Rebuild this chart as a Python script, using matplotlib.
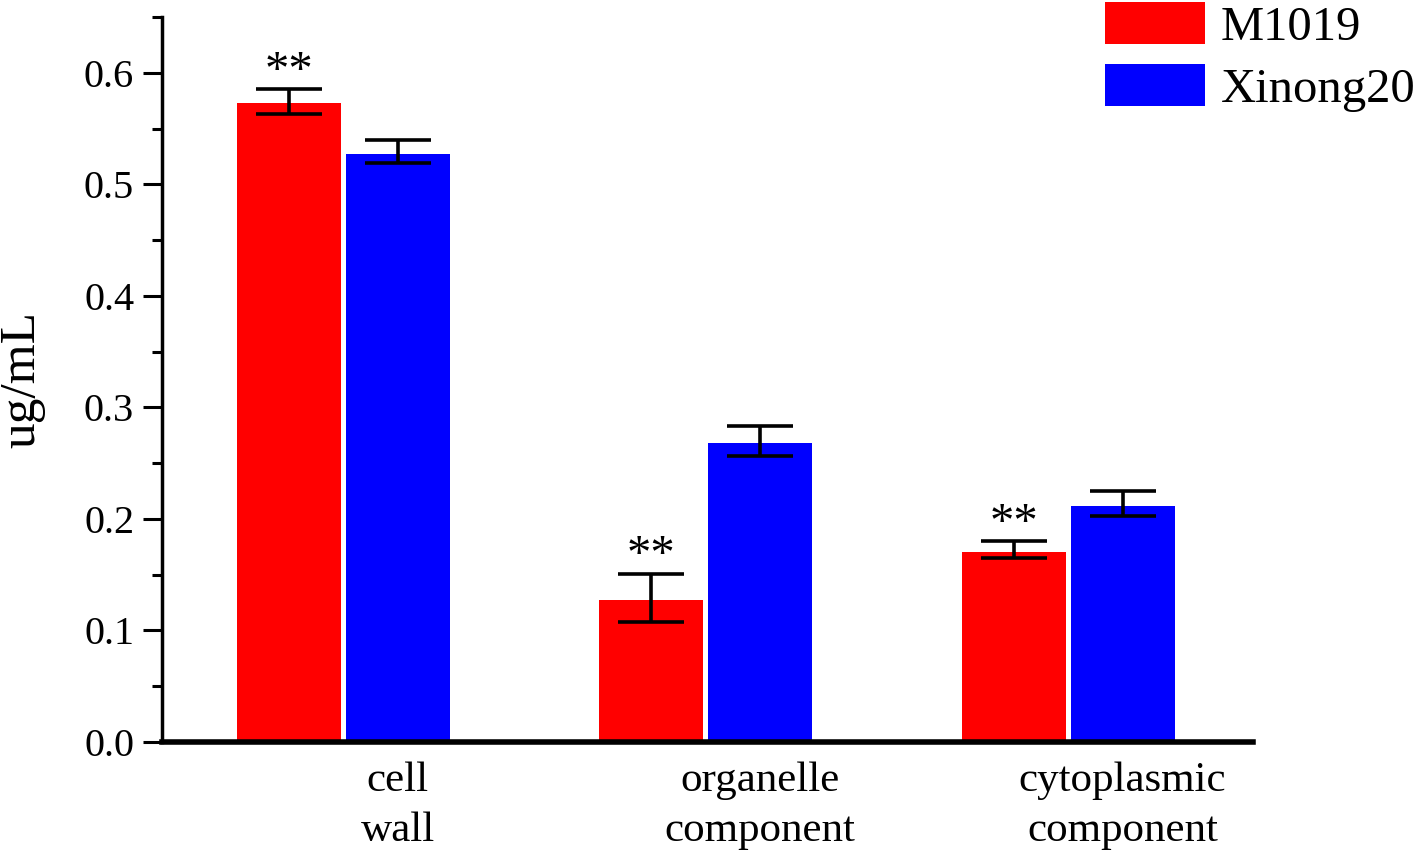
import numpy as np
import matplotlib
matplotlib.use("Agg")
from matplotlib import pyplot as plt
from matplotlib.ticker import MultipleLocator

plt.rcParams['font.family'] = ['Liberation Serif', 'DejaVu Serif']

categories = ["cell\nwall", "organelle\ncomponent", "cytoplasmic\ncomponent"]
series_names = ["M1019", "Xinong20"]
m1019 = [0.573, 0.127, 0.170]
m1019_err_hi = [0.012, 0.024, 0.010]
m1019_err_lo = [0.010, 0.019, 0.005]
xinong20 = [0.527, 0.268, 0.212]
xinong20_err_hi = [0.013, 0.015, 0.013]
xinong20_err_lo = [0.008, 0.012, 0.009]
significance = ["**", "**", "**"]

fig = plt.figure(figsize=(14.18, 8.61), dpi=100)
ax = fig.add_axes([0.1142, 0.1382, 0.7694, 0.8421])

x = np.arange(len(categories))
w = 0.287
off = 0.1505
errkw = dict(ecolor='black', elinewidth=2.6, capsize=24, capthick=2.6)
ax.bar(x - off, m1019, w, color='#ff0000', label=series_names[0],
       yerr=[m1019_err_lo, m1019_err_hi], error_kw=errkw)
ax.bar(x + off, xinong20, w, color='#0000ff', label=series_names[1],
       yerr=[xinong20_err_lo, xinong20_err_hi], error_kw=errkw)

for i, s in enumerate(significance):
    ax.text(x[i] - off, m1019[i] + m1019_err_hi[i] - 0.004, s,
            ha='center', va='bottom', fontsize=35)

ax.set_xlim(-0.5, 2.51)
ax.set_ylim(0, 0.65)
ax.set_xticks(x + off)
ax.set_xticklabels(categories, fontsize=31, linespacing=1.4)
ax.tick_params(axis='x', length=0, pad=14)
ax.yaxis.set_major_locator(MultipleLocator(0.1))
ax.yaxis.set_minor_locator(MultipleLocator(0.05))
ax.yaxis.set_major_formatter(matplotlib.ticker.FormatStrFormatter('%.1f'))
ax.tick_params(axis='y', which='major', length=14, width=2.2, labelsize=29, pad=6)
ax.tick_params(axis='y', which='minor', length=7, width=2.2)
ax.set_ylabel("ug/mL", fontsize=37, labelpad=28)

ax.spines['top'].set_visible(False)
ax.spines['right'].set_visible(False)
ax.spines['left'].set_linewidth(2.5)
ax.spines['bottom'].set_linewidth(4)

ax.legend(loc='upper right', bbox_to_anchor=(1.0, 1.0), bbox_transform=fig.transFigure,
          frameon=False, fontsize=35, handlelength=2.06, handleheight=0.93,
          labelspacing=0.3, handletextpad=0.33, borderaxespad=0.0, borderpad=0.05)

fig.savefig("out.png", dpi=100)
